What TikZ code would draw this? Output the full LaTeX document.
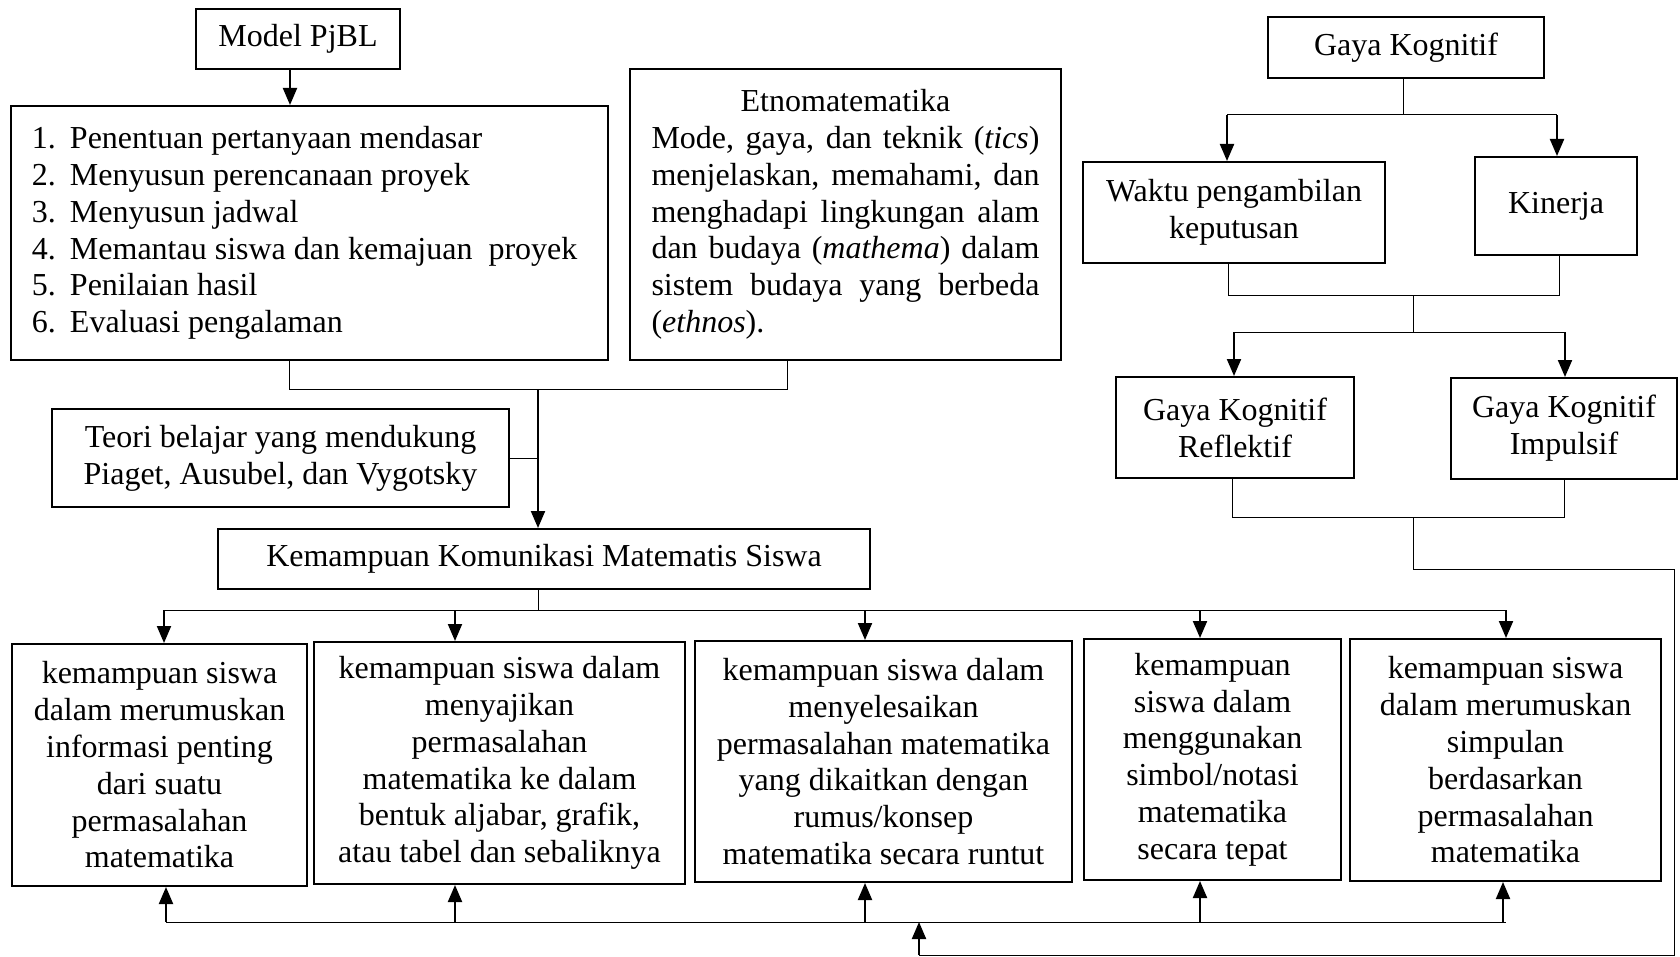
\documentclass[tikz,border=0pt]{standalone}
\usepackage{fontspec}
\setmainfont{Liberation Serif}
\usetikzlibrary{arrows.meta}
\tikzset{
  boxst/.style={draw, line width=1pt, inner sep=0pt, font=\fontsize{16pt}{18.4pt}\selectfont},
  arr/.style={line width=1pt, -{Triangle[length=8.5pt,width=7pt]}},
  thinl/.style={line width=0.5pt},
}
\newcommand\bx[7][]{\node[boxst,#1, minimum width={(#5-#3)*0.5pt}, minimum height={(#6-#4)*0.5pt}] (#2) at ({(#3+#5)/2},{(#4+#6)/2}) {#7};}
\newcommand\stline[2]{\makebox[277.5pt][l]{\makebox[19pt][l]{#1}#2}}
\begin{document}
\begin{tikzpicture}[x=0.5pt,y=-0.5pt]
\useasboundingbox[fill=white] (0,0) rectangle (1680,957);
% boxes
\bx{pjbl}{196}{9}{400}{69}{Model PjBL}
\bx[align=left]{steps}{11}{106}{608}{360}{%
\stline{1.}{Penentuan pertanyaan mendasar}\\
\stline{2.}{Menyusun perencanaan proyek}\\
\stline{3.}{Menyusun jadwal}\\
\stline{4.}{Memantau siswa dan kemajuan\ \ proyek}\\
\stline{5.}{Penilaian hasil}\\
\stline{6.}{Evaluasi pengalaman}}
\bx[align=left]{etno}{630}{69}{1061}{360}{%
\makebox[194pt][c]{Etnomatematika}\\
\makebox[194pt][s]{Mode, gaya, dan teknik (\textit{tics})}\\
\makebox[194pt][s]{menjelaskan, memahami, dan}\\
\makebox[194pt][s]{menghadapi lingkungan alam}\\
\makebox[194pt][s]{dan budaya (\textit{mathema}) dalam}\\
\makebox[194pt][s]{sistem budaya yang berbeda}\\
\makebox[194pt][l]{(\textit{ethnos}).}}
\bx[align=center]{teori}{52}{409}{509}{507}{Teori belajar yang mendukung\\Piaget, Ausubel, dan Vygotsky}
\bx{kk}{218}{529}{870}{589}{Kemampuan Komunikasi Matematis Siswa}
\bx{gk}{1268}{17}{1544}{78}{Gaya Kognitif}
\bx[align=center]{wk}{1083}{162}{1385}{263}{Waktu pengambilan\\keputusan}
\bx{kin}{1475}{157}{1637}{255}{Kinerja}
\bx[align=center]{ref}{1116}{377}{1354}{478}{Gaya Kognitif\\Reflektif}
\bx[align=center]{imp}{1451}{378}{1677}{479}{Gaya Kognitif\\Impulsif}
\bx[align=center]{b1}{12}{644}{307}{886}{kemampuan siswa\\dalam merumuskan\\informasi penting\\dari suatu\\permasalahan\\matematika}
\bx[align=center]{b2}{314}{642}{685}{884}{kemampuan siswa dalam\\menyajikan\\permasalahan\\matematika ke dalam\\bentuk aljabar, grafik,\\atau tabel dan sebaliknya}
\bx[align=center]{b3}{695}{641}{1072}{882}{kemampuan siswa dalam\\menyelesaikan\\permasalahan matematika\\yang dikaitkan dengan\\rumus/konsep\\matematika secara runtut}
\bx[align=center]{b4}{1084}{639}{1341}{880}{kemampuan\\siswa dalam\\menggunakan\\simbol/notasi\\matematika\\secara tepat}
\bx[align=center]{b5}{1350}{639}{1661}{881}{kemampuan siswa\\dalam merumuskan\\simpulan\\berdasarkan\\permasalahan\\matematika}
% coordinates
\coordinate (xa) at (290,0);
\coordinate (j1) at (289,389);
\coordinate (j2) at (787,389);
\coordinate (jm) at (538,389);
\coordinate (jk) at (538,610);
\coordinate (d1) at (164,610);
\coordinate (d2) at (455,610);
\coordinate (d3) at (865,610);
\coordinate (d4) at (1200,610);
\coordinate (d5) at (1506,610);
\coordinate (u1) at (166,922);
\coordinate (u2) at (455,922);
\coordinate (u3) at (865,922);
\coordinate (u4) at (1200,922);
\coordinate (u5) at (1503,922);
\coordinate (ue) at (1506,922);
\coordinate (g0) at (1403,115);
\coordinate (ga) at (1227,115);
\coordinate (gb) at (1557,115);
\coordinate (h1) at (1228,295);
\coordinate (h2) at (1559,295);
\coordinate (hm) at (1413,295);
\coordinate (hj) at (1413,332);
\coordinate (ha) at (1234,332);
\coordinate (hb) at (1565,332);
\coordinate (r1) at (1232,517);
\coordinate (r2) at (1564,517);
\coordinate (rm) at (1413,517);
\coordinate (rc) at (1413,569);
\coordinate (rr) at (1674,569);
\coordinate (rb) at (1674,955);
\coordinate (rx) at (919,955);
\coordinate (ru) at (919,922);
% left part
\draw[arr] (xa |- pjbl.south) -- (xa |- steps.north);
\draw[thinl] (j1 |- steps.south) -- (j1) -- (j2) -- (j2 |- etno.south);
\draw[arr] (jm) -- (jm |- kk.north);
\draw[thinl] (teori.east) -- (teori.east -| jm);
\draw[thinl] (jm |- kk.south) -- (jk);
\draw[thinl] (d1) -- (d5);
\draw[arr] (d1) -- (d1 |- b1.north);
\draw[arr] (d2) -- (d2 |- b2.north);
\draw[arr] (d3) -- (d3 |- b3.north);
\draw[arr] (d4) -- (d4 |- b4.north);
\draw[arr] (d5) -- (d5 |- b5.north);
\draw[thinl] (u1) -- (ue);
\draw[arr] (u1) -- (u1 |- b1.south);
\draw[arr] (u2) -- (u2 |- b2.south);
\draw[arr] (u3) -- (u3 |- b3.south);
\draw[arr] (u4) -- (u4 |- b4.south);
\draw[arr] (u5) -- (u5 |- b5.south);
% right part
\draw[thinl] (g0 |- gk.south) -- (g0);
\draw[thinl] (ga) -- (gb);
\draw[arr] (ga) -- (ga |- wk.north);
\draw[arr] (gb) -- (gb |- kin.north);
\draw[thinl] (h1 |- wk.south) -- (h1) -- (h2) -- (h2 |- kin.south);
\draw[thinl] (hm) -- (hj);
\draw[thinl] (ha) -- (hb);
\draw[arr] (ha) -- (ha |- ref.north);
\draw[arr] (hb) -- (hb |- imp.north);
\draw[thinl] (r1 |- ref.south) -- (r1) -- (r2) -- (r2 |- imp.south);
\draw[thinl] (rm) -- (rc) -- (rr) -- (rb) -- (rx);
\draw[arr] (rx) -- (ru);
\end{tikzpicture}
\end{document}
